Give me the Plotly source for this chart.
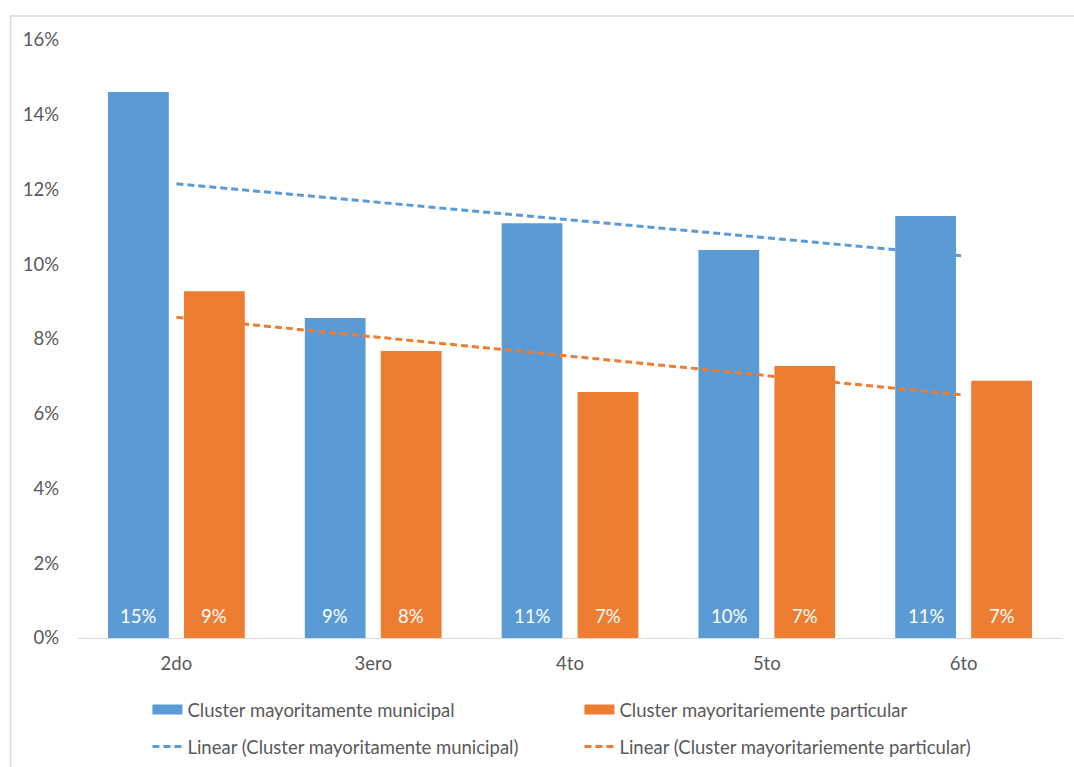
import numpy as np
import plotly.graph_objects as go

categories = ["2do", "3ero", "4to", "5to", "6to"]
municipal = [0.1461, 0.0856, 0.1110, 0.1038, 0.1129]
particular = [0.0928, 0.0768, 0.0658, 0.0728, 0.0688]
name_mun = "Cluster mayoritamente municipal"
name_par = "Cluster mayoritariemente particular"
y_ticks = [0, 0.02, 0.04, 0.06, 0.08, 0.10, 0.12, 0.14, 0.16]

BLUE = "#5b9bd5"
ORANGE = "#ed7d31"
TXT = "#595959"
FONT = "Lato"
FS = 18.5

W, H = 1074, 767
L, R, T, B = 77.5, 11.5, 40, 129
pw = W - L - R
ph = H - T - B
BARGAP, GROUPGAP = 0.228, 0.2
cat_px = pw / len(categories)
slot_px = cat_px * (1 - BARGAP) / 2


def linear_trend(vals):
    xs = np.arange(len(vals))
    m, b = np.polyfit(xs, vals, 1)
    return list(m * xs + b)


fig = go.Figure()
fig.add_trace(go.Bar(
    x=categories, y=municipal, name=name_mun,
    marker=dict(color=BLUE, line=dict(width=0)), showlegend=False,
))
fig.add_trace(go.Bar(
    x=categories, y=particular, name=name_par,
    marker=dict(color=ORANGE, line=dict(width=0)), showlegend=False,
))
# legend swatches for the bar series
fig.add_trace(go.Scatter(
    x=[None], y=[None], mode="lines", name=name_mun,
    line=dict(color=BLUE, width=13), legend="legend",
))
fig.add_trace(go.Scatter(
    x=[None], y=[None], mode="lines", name=name_par,
    line=dict(color=ORANGE, width=13), legend="legend",
))
fig.add_trace(go.Scatter(
    x=categories, y=linear_trend(municipal), mode="lines",
    name="Linear (" + name_mun + ")",
    line=dict(color=BLUE, width=3, dash="7px,4px"),
    legend="legend2",
))
fig.add_trace(go.Scatter(
    x=categories, y=linear_trend(particular), mode="lines",
    name="Linear (" + name_par + ")",
    line=dict(color=ORANGE, width=3, dash="7px,4px"),
    legend="legend2",
))

# value labels near the base of each bar
annotations = []
for vals, sign in ((municipal, -1), (particular, 1)):
    for c, v in zip(categories, vals):
        annotations.append(dict(
            x=c, y=0, xref="x", yref="y", text=f"{v:.0%}", showarrow=False,
            yanchor="bottom", xanchor="center", yshift=9, xshift=sign * slot_px / 2,
            font=dict(color="white", size=FS, family=FONT),
        ))

fig.update_layout(
    width=W, height=H,
    margin=dict(l=L, r=R, t=T, b=B, autoexpand=False),
    paper_bgcolor="white", plot_bgcolor="white",
    font=dict(family=FONT, color=TXT, size=FS),
    barmode="group", bargap=BARGAP, bargroupgap=GROUPGAP,
    xaxis=dict(
        showgrid=False, showline=True, linecolor="#d9d9d9", linewidth=1,
        ticks="", tickfont=dict(size=FS, color=TXT), ticklabelstandoff=9,
    ),
    yaxis=dict(
        range=[0, 0.16], tickvals=y_ticks, tickformat=".0%",
        showgrid=False, showline=False, zeroline=False, ticks="",
        tickfont=dict(size=FS, color=TXT), ticklabelstandoff=18,
    ),
    legend=dict(
        orientation="h", x=(147 - L) / pw, y=(638 - 691) / ph,
        xanchor="left", yanchor="top", entrywidth=387, entrywidthmode="pixels",
        font=dict(size=FS, color=TXT), bgcolor="rgba(0,0,0,0)",
    ),
    legend2=dict(
        orientation="h", x=(147 - L) / pw, y=(638 - 728) / ph,
        xanchor="left", yanchor="top", entrywidth=387, entrywidthmode="pixels",
        font=dict(size=FS, color=TXT), bgcolor="rgba(0,0,0,0)",
    ),
    annotations=annotations,
    shapes=[dict(
        type="rect", xref="paper", yref="paper",
        x0=(10 - L) / pw, x1=(1090 - L) / pw,
        y0=(638 - 790) / ph, y1=(638 - 16) / ph,
        line=dict(color="#d9d9d9", width=1.5), fillcolor="rgba(0,0,0,0)", layer="below",
    )],
)

fig.write_html("out.html")
